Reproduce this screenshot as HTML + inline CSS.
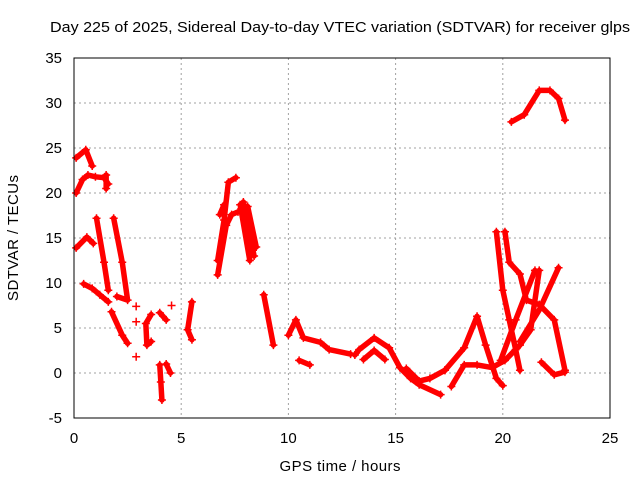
<!DOCTYPE html>
<html><head><meta charset="utf-8"><style>
body{margin:0;background:#fff;font-family:"Liberation Sans",sans-serif}
svg text{font-family:"Liberation Sans",sans-serif;font-size:15px;fill:#000}
</style></head><body>
<svg id="c" width="640" height="480" xmlns="http://www.w3.org/2000/svg">
<text x="50" y="32" textLength="580" lengthAdjust="spacingAndGlyphs">Day 225 of 2025, Sidereal Day-to-day VTEC variation (SDTVAR) for receiver glps</text>
<text x="340" y="471" text-anchor="middle" textLength="121">GPS time / hours</text>
<text transform="translate(18,238) rotate(-90)" text-anchor="middle" textLength="126">SDTVAR / TECUs</text>
<g id="grid"></g><g id="ticks"></g><g id="data"></g>
<rect x="74" y="58" width="536" height="360" fill="none" stroke="#000"/>
</svg>
<script>
const xTicks=[0,5,10,15,20,25];
const yTicks=[-5,0,5,10,15,20,25,30,35];
const tracks=[
[[0.1,23.9],[0.55,24.8],[0.85,23]],
[[0.1,20],[0.4,21.5],[0.65,22],[1.0,21.8],[1.4,21.7],[1.6,21]],
[[1.5,22],[1.5,20.5]],
[[0.1,13.9],[0.6,15.1],[0.9,14.4]],
[[0.45,9.9],[0.85,9.4],[1.2,8.7],[1.6,7.9]],
[[1.05,17.2],[1.4,12.3],[1.6,9.2]],
[[1.85,17.2],[2.25,12.3],[2.5,8.1],[2.0,8.5]],
[[1.75,6.8],[2.25,4.2],[2.5,3.3]],
[[2.9,7.4]],[[2.9,5.7]],[[2.9,1.8]],
[[3.6,6.5],[3.35,5.5],[3.4,3.1],[3.6,3.5]],
[[4.0,0.9],[4.05,-1],[4.1,-3]],
[[4.3,1],[4.5,0]],
[[4.0,6.7],[4.3,5.9]],[[4.55,7.5]],
[[5.5,7.9],[5.3,4.8],[5.5,3.7]],
[[6.7,12.5],[7.0,17],[7.2,21.2],[7.55,21.7]],
[[6.8,17.6],[7.0,18.7]],
[[6.7,10.9],[7.1,16.4],[7.35,17.6],[7.65,17.9]],
[[7.75,18.7],[8.2,12.5]],
[[7.9,19],[8.4,13]],
[[8.1,18.5],[8.5,14]],
[[8.85,8.7],[9.3,3.1]],
[[10.0,4.2],[10.35,5.9],[10.7,3.9],[11.5,3.4],[11.9,2.6],[12.9,2.1]],
[[10.5,1.4],[11,0.9]],
[[13.1,2],[13.3,2.6],[14,3.9],[14.7,2.8],[15.2,0.6],[15.7,-0.6],[16.1,-1.3],[17.1,-2.4]],
[[13.5,1.5],[14,2.5],[14.5,1.5]],
[[15.5,0.5],[16.1,-0.9],[16.6,-0.6],[17.3,0.3]],
[[17.3,0.3],[18.2,2.8],[18.8,6.3],[19.2,3.1],[19.7,-0.6],[20,-1.4]],
[[17.6,-1.5],[18.2,0.9],[18.8,0.9],[19.5,0.6],[20.1,1.4],[20.8,3.1],[21.3,4.8],[21.7,11.4]],
[[19.7,15.7],[20,9.2],[20.3,5.9],[20.6,2.6],[20.8,0.3]],
[[20.1,15.7],[20.3,12.3],[20.8,11],[21.1,8.1],[21.7,7.6],[22.4,5.9],[22.9,0.3]],
[[19.9,1.4],[20.6,5.9],[21.5,11.4]],
[[20.8,3.5],[21.7,7],[22.6,11.7]],
[[21.8,1.2],[22.4,-0.2],[22.9,0.1]],
[[20.4,27.9],[21,28.7],[21.7,31.4],[22.2,31.4],[22.6,30.5],[22.9,28.1]]
];
const X=h=>74+h*536/25, Y=v=>373-v*9;
const ns="http://www.w3.org/2000/svg";
const g=document.getElementById('grid'),t=document.getElementById('ticks'),d=document.getElementById('data');
function mk(tag,at,p){const e=document.createElementNS(ns,tag);for(const k in at)e.setAttribute(k,at[k]);p.appendChild(e);return e;}
xTicks.forEach(v=>{
 if(v>0&&v<25){const l=mk('line',{x1:X(v),x2:X(v),y1:58,y2:418,stroke:'#a0a0a0','stroke-dasharray':'2,3'},g);
 
 }
 const s=mk('text',{x:X(v),y:443,'text-anchor':'middle'},t);s.textContent=v;
 
 
});
yTicks.forEach(v=>{
 if(v>-5&&v<35){const l=mk('line',{x1:74,x2:610,y1:Y(v),y2:Y(v),stroke:'#a0a0a0','stroke-dasharray':'2,3'},g);
 
 }
 const s=mk('text',{x:62,y:Y(v)+5,'text-anchor':'end'},t);s.textContent=v;
 
 
});
tracks.forEach(tr=>{
 const pts=tr.map(p=>X(p[0])+','+Y(p[1])).join(' ');
 const pl=mk('polyline',{points:pts,fill:'none',stroke:'#f00','stroke-width':5.5,'stroke-linejoin':'round','stroke-linecap':'round'},d);
 
 
 tr.forEach(p=>{
  const m=mk('path',{d:`M${X(p[0])-4},${Y(p[1])}h8M${X(p[0])},${Y(p[1])-4}v8`,stroke:'#f00','stroke-width':1.5},d);
  
  
 });
});
</script>
</body></html>
